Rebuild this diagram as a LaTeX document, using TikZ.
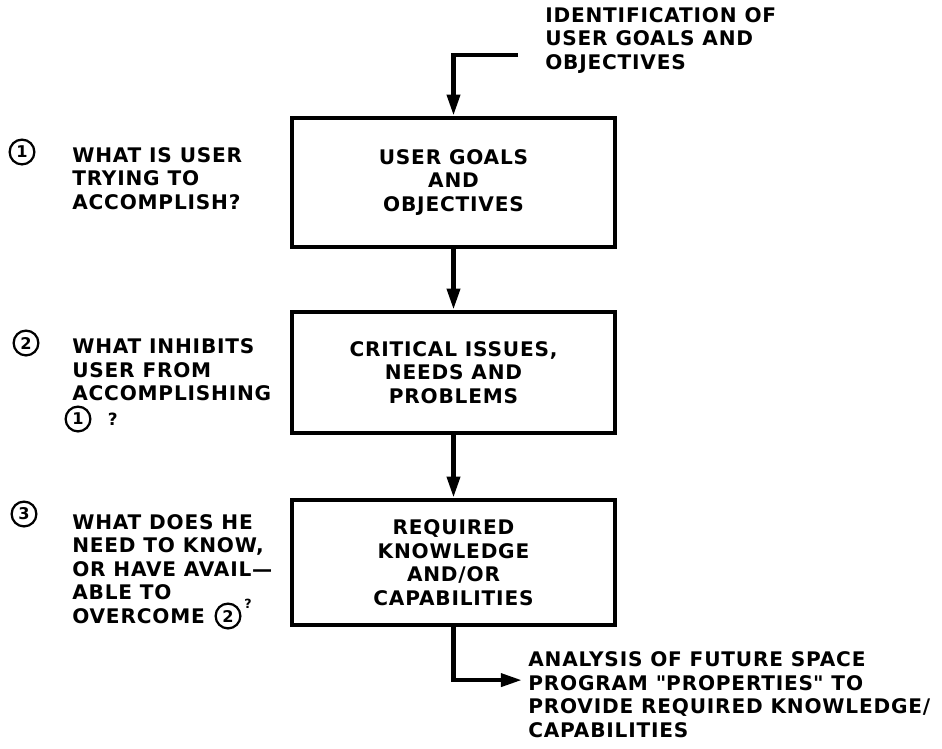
\documentclass[tikz,border=0pt]{standalone}
\usepackage{fontspec}
\setmainfont{DejaVu Sans}[LetterSpace=4]
\usetikzlibrary{arrows.meta, positioning}
\tikzset{
  font=\bfseries\fontsize{14.3}{16.7}\selectfont,
  >={Triangle[length=15pt, width=9pt]},
  %
  box/.style={draw, line width=3.2pt, minimum width=8.075cm, inner sep=0pt,
              align=center},
  flow/.style={draw, line width=3.2pt, ->},
  %
  lbl/.style={align=left, inner sep=0pt, anchor=west},
  numc/.style={circle, draw, line width=1.6pt, minimum size=0.62cm, inner sep=0pt,
               font=\bfseries\fontsize{11.5}{13}\selectfont},
  qmark/.style={inner sep=0pt, font=\bfseries\fontsize{12}{14}\selectfont},
  qsup/.style={inner sep=0pt, font=\bfseries\fontsize{9}{10}\selectfont},
}

\begin{document}
\begin{tikzpicture}[x=1cm, y=1cm]

  \useasboundingbox (0,0) rectangle (23.55,-18.7);

  % --- the three boxes ---------------------------------------------------
  \node[box, minimum height=3.225cm] (goals) at (11.3375,-4.5625)
    {USER GOALS\\AND\\OBJECTIVES};
  \node[box, minimum height=3.025cm] (issues) at (11.3375,-9.3125)
    {CRITICAL ISSUES,\\NEEDS AND\\PROBLEMS};
  \node[box, minimum height=3.125cm] (needs) at (11.3375,-14.0625)
    {REQUIRED\\KNOWLEDGE\\AND/OR\\CAPABILITIES};

  % --- input and output --------------------------------------------------
  \node[lbl] (ident) at (13.625,-1.0125)
    {IDENTIFICATION OF\\USER GOALS AND\\OBJECTIVES};
  \coordinate (identin) at (12.95,-1.375);

  \node[lbl, inner xsep=0.15cm] (analysis) at (13.05,-17.3625)
    {ANALYSIS OF FUTURE SPACE\\PROGRAM \textquotedbl PROPERTIES\textquotedbl{} TO\\PROVIDE REQUIRED KNOWLEDGE/\\CAPABILITIES};

  % --- the questions -----------------------------------------------------
  \node[numc] (n1) at (0.55,-3.8) {1};
  \node[lbl] (q1) at (1.8,-4.4625) {WHAT IS USER\\TRYING TO\\ACCOMPLISH?};

  \node[numc] (n2) at (0.65,-8.575) {2};
  \node[lbl] (q2) at (1.8,-9.25) {WHAT INHIBITS\\USER FROM\\ACCOMPLISHING};
  \node[numc] (r1) at (1.95,-10.475) {1};
  \node[qmark, right=0.4cm of r1] (q2end) {?};

  \node[numc] (n3) at (0.6,-12.85) {3};
  \node[lbl] (q3) at (1.8,-14.225)
    {WHAT DOES HE\\NEED TO KNOW,\\OR HAVE AVAIL---\\ABLE TO\\OVERCOME};
  \node[numc] (r2) at (5.7,-15.4) {2};
  \node[qsup] (q3end) at (6.2,-15.1) {?};

  % --- connectors --------------------------------------------------------
  \draw[flow] (identin) -| (goals.north);
  \draw[flow] (goals) -- (issues);
  \draw[flow] (issues) -- (needs);
  \draw[flow] (needs.south) |- ([yshift=0.36cm]analysis.west);

\end{tikzpicture}
\end{document}
